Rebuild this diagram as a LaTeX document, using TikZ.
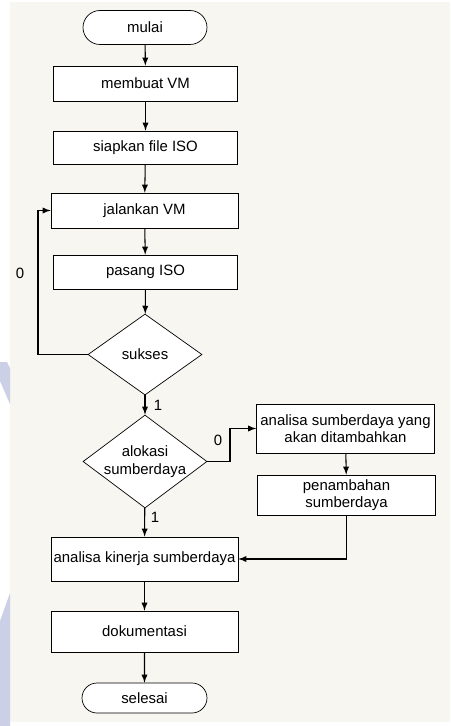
\documentclass[tikz,border=0pt]{standalone}
\usepackage{fontspec}
\setmainfont{Liberation Sans}
\usetikzlibrary{shapes.geometric, shapes.misc}

\definecolor{paper}{RGB}{248,246,240}
\definecolor{wmark}{RGB}{204,208,230}

\begin{document}
\begin{tikzpicture}[>=latex, x=0.02cm, y=-0.02cm, font=\fontsize{8.5}{10}\selectfont]

\tikzstyle{term}=[draw, fill=white, rounded rectangle, minimum width=2.48cm, minimum height=0.68cm, inner sep=0pt]
\tikzstyle{proc}=[draw, fill=white, minimum width=3.68cm, minimum height=0.70cm, inner sep=1pt, align=center]
\tikzstyle{procside}=[draw, fill=white, minimum width=3.56cm, minimum height=0.80cm, inner sep=1pt, align=center]
\tikzstyle{decide}=[draw, fill=white, diamond, inner sep=0pt]
\tikzstyle{flow}=[->, line width=0.6pt]

% --- background ---
\useasboundingbox (0,0) rectangle (450,726);
\fill[white] (0,0) rectangle (450,726);
\fill[paper] (10,2) rectangle (450,722);
\fill[wmark] (0,362) -- (7,362) -- (10,368) -- (10,404) -- (0,381) -- cycle;
\fill[wmark] (10,593) -- (10,726) -- (0,726) -- (0,621) -- cycle;

% --- main column ---
\node[term] (mulai) at (145,27.5) {mulai};
\node[proc] (buat) at (145.5,83.5) {membuat VM};
\node[proc, minimum height=0.66cm] (siap) at (145.5,147.5) {siapkan file ISO};
\node[proc, minimum width=3.74cm] (jalan) at (144.5,210.5) {jalankan VM};
\node[proc, minimum height=0.68cm] (pasang) at (145.5,272) {pasang ISO};

% --- decisions ---
\node[decide, minimum width=2.28cm, minimum height=1.62cm] (sukses) at (145,354.5) {};
\node at (sukses) {sukses};
\node[decide, minimum width=2.48cm, minimum height=1.86cm] (alokasi) at (145,461.5) {};
\node[align=center] at (alokasi) {alokasi\\sumberdaya};

% --- side branch ---
\node[procside, minimum height=0.98cm] (analisa) at (345.5,428.5) {analisa sumberdaya yang\\akan ditambahkan};
\node[procside] (tambah) at (346.5,495) {penambahan\\sumberdaya};

% --- tail ---
\node[proc, minimum width=3.74cm, minimum height=0.88cm] (kinerja) at (144.5,559) {analisa kinerja sumberdaya};
\node[proc, minimum width=3.74cm, minimum height=0.82cm] (dokumen) at (144.5,631.5) {dokumentasi};
\node[term, minimum width=2.5cm, minimum height=0.6cm] (selesai) at (144.5,698) {selesai};

% --- connectors ---
\draw[flow] (mulai) -- (buat);
\draw[flow] (buat) -- (siap);
\draw[flow] (siap) -- (jalan);
\draw[flow] (jalan) -- (pasang);
\draw[flow] (pasang) -- (sukses);
\coordinate (back) at (38,354.5);
\draw[flow] (sukses.west) -- (back) |- (jalan.west);
\draw[flow] (sukses) -- (alokasi);
\coordinate (kink) at (230,428.5);
\draw[flow] (alokasi.east) -| (kink) -- (analisa.west);
\draw[flow] (analisa) -- (tambah);
\draw[flow] (tambah.south) |- (kinerja.east);
\draw[flow] (alokasi) -- (kinerja);
\draw[flow] (kinerja) -- (dokumen);
\draw[flow] (dokumen) -- (selesai);

% --- branch labels ---
\node (no1) at (20,273) {0};
\node (yes1) at (158,405) {1};
\node (no2) at (218,440) {0};
\node (yes2) at (155,517) {1};

\end{tikzpicture}
\end{document}
